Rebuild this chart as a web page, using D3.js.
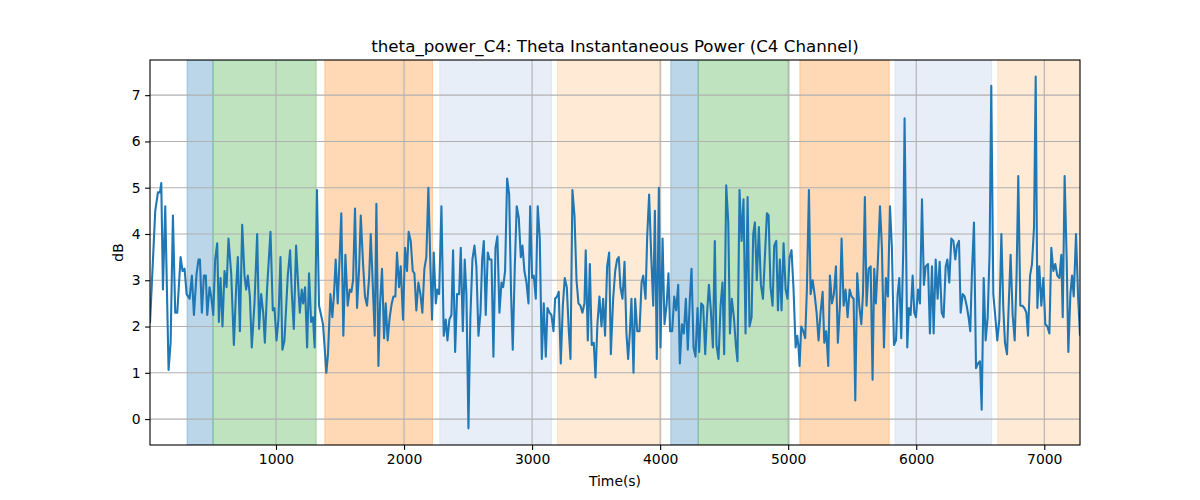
<!DOCTYPE html>
<html>
<head>
<meta charset="utf-8">
<script src="https://cdn.jsdelivr.net/npm/d3@7"></script>
<style>
    body { margin: 0; background: #fff; }
    text { font-family: "DejaVu Sans", sans-serif; fill: #000; }
</style>
</head>
<body>
<div id="chart"></div>
<script>
// time (s) and theta power (dB)
const times = [
    16, 57, 78, 94, 104, 117, 135, 161, 177, 195, 213, 229, 255, 270, 286, 302, 325, 343, 359, 380,
    395, 406, 421, 437, 452, 463, 481, 494, 510, 525, 541, 554, 567, 582, 598, 614, 629, 650, 671, 689,
    702, 718, 736, 754, 767, 780, 796, 811, 832, 853, 868, 884, 900, 913, 931, 957, 975, 988, 1004, 1019,
    1035, 1050, 1066, 1092, 1110, 1123, 1139, 1157, 1175, 1186, 1201, 1212, 1227, 1243,
    1258, 1274, 1289, 1302, 1320, 1336, 1352, 1367, 1380, 1393, 1406, 1425, 1440, 1453, 1466, 1482, 1497, 1510, 1526, 1542,
    1560, 1576, 1589, 1602, 1617, 1633, 1649, 1662, 1680, 1695, 1711, 1727, 1740, 1755, 1771, 1784, 1800, 1813, 1828, 1844,
    1857, 1872, 1888, 1904, 1917, 1932, 1945, 1961, 1974, 1992, 2008, 2023, 2036, 2052, 2068, 2081, 2096, 2112, 2128, 2143,
    2159, 2174, 2190, 2206, 2219, 2232, 2248, 2260, 2274, 2292, 2310, 2326, 2339, 2354, 2370, 2383, 2399, 2414, 2430,
    2443, 2459, 2474, 2487, 2503, 2518, 2534, 2550, 2565, 2581, 2597, 2610, 2623, 2638, 2654, 2667, 2683, 2698, 2714, 2729,
    2745, 2761, 2774, 2789, 2805, 2821, 2836, 2849, 2865, 2880, 2896, 2912, 2925, 2940, 2956, 2972, 2985, 3000, 3013, 3029,
    3044, 3060, 3076, 3091, 3107, 3120, 3136, 3151, 3167, 3180, 3195, 3208, 3224, 3240, 3255, 3271, 3287, 3300, 3315, 3331,
    3347, 3362, 3378, 3393, 3409, 3419, 3435, 3451, 3466, 3482, 3495, 3510, 3526, 3542, 3555, 3570, 3586, 3602,
    3615, 3633, 3649, 3664, 3677, 3690, 3706, 3722, 3737, 3750, 3763, 3776, 3792, 3805, 3821, 3839, 3855, 3868, 3886, 3899,
    3914, 3930, 3946, 3959, 3974, 3990, 4003, 4019, 4034, 4050, 4065, 4078, 4094, 4110, 4125, 4141, 4154, 4170, 4185, 4201,
    4216, 4232, 4245, 4261, 4276, 4292, 4305, 4321, 4336, 4352, 4367, 4381, 4396, 4412, 4427, 4440, 4456, 4472, 4487, 4500,
    4516, 4532, 4545, 4560, 4576, 4591, 4604, 4620, 4636, 4651, 4667, 4683, 4698, 4714, 4727, 4740, 4755, 4771,
    4787, 4803, 4818, 4834, 4847, 4862, 4878, 4891, 4907, 4920, 4935, 4948, 4964, 4980, 4995, 5011, 5026, 5042, 5058, 5071,
    5081, 5089, 5102, 5118, 5133, 5146, 5162, 5175, 5191, 5206, 5222, 5237, 5253, 5269, 5282, 5297, 5313, 5326, 5342, 5357,
    5373, 5388, 5404, 5417, 5433, 5448, 5464, 5480, 5495, 5511, 5524, 5539, 5555, 5571, 5584, 5599, 5612, 5628, 5644, 5659,
    5672, 5685, 5701, 5717, 5732, 5748, 5763, 5779, 5795, 5810, 5826, 5842, 5855, 5868, 5883, 5899, 5909, 5920, 5930, 5943,
    5956, 5972, 5985, 5998, 6014, 6029, 6045, 6060, 6074, 6092, 6107, 6123, 6136, 6152, 6167, 6183, 6199, 6214, 6230, 6243,
    6258, 6274, 6290, 6305, 6318, 6334, 6347, 6363, 6378, 6394, 6409, 6422, 6435, 6451, 6467, 6482, 6498, 6511, 6527, 6542,
    6558, 6573, 6586, 6602, 6618, 6633, 6649, 6665, 6680, 6693, 6709, 6724, 6737, 6753, 6769, 6784, 6797, 6813, 6829, 6844,
    6860, 6873, 6889, 6904, 6920, 6933, 6946, 6961, 6977, 6993, 7008, 7024, 7040, 7055, 7071, 7086, 7102, 7118, 7133, 7144,
    7159, 7175, 7188, 7204, 7217, 7230, 7248, 7264, 7279
];
const power = [
    2.07, 4.5, 4.9, 4.9, 5.1, 2.8, 4.6, 1.06, 1.65, 4.4, 2.3, 2.3, 3.5, 3.2, 3.25, 2.7, 2.6, 3.1, 2.25, 3.15,
    3.45, 3.45, 2.3, 3.1, 3.1, 2.25, 2.85, 2.65, 2.25, 3.45, 3.8, 2.1, 3.05, 2.0, 3.2, 2.85, 3.9, 3.15, 1.6, 2.85,
    3.5, 1.9, 4.2, 3.1, 2.8, 3.1, 2.65, 1.55, 2.5, 4.0, 1.95, 2.7, 2.3, 1.65, 2.85, 4.05, 2.35, 2.4, 1.7, 2.15,
    3.5, 1.5, 1.7, 3.1, 3.65, 2.75, 1.95, 3.75, 2.8, 2.3, 2.8, 2.5, 2.85, 1.55,
    3.15, 2.1, 2.2, 1.55, 4.95, 2.45, 2.25, 2.05, 1.55, 1.0, 1.4, 2.7, 2.2, 2.7, 3.45, 2.5, 3.5, 4.45, 1.8, 3.55,
    2.45, 2.8, 2.75, 3.0, 4.55, 2.4, 3.25, 4.4, 3.35, 2.65, 2.45, 3.05, 4.0, 2.95, 1.8, 4.65, 1.15, 2.5, 3.25, 1.75,
    2.5, 1.7, 2.2, 2.5, 2.65, 2.65, 3.6, 2.85, 3.3, 2.15, 3.7, 3.2, 4.05, 3.85, 3.2, 3.15, 2.35, 2.95, 2.7, 2.3,
    3.25, 3.5, 5.0, 3.3, 2.15, 3.6, 2.5, 2.8, 2.7, 4.6, 1.8, 2.15, 1.7, 2.15, 2.25, 3.65, 1.45, 2.7, 2.7,
    3.7, 1.9, 3.45, 2.7, -0.2, 2.2, 3.45, 3.75, 3.3, 1.8, 2.3, 3.45, 3.85, 2.25, 3.6, 3.45, 3.45, 1.35, 3.7, 3.95,
    2.3, 2.95, 2.85, 3.2, 5.2, 4.85, 2.7, 1.5, 3.3, 4.6, 4.35, 3.5, 3.75, 3.2, 2.95, 2.5, 4.6, 3.05, 3.1, 2.6,
    4.6, 3.9, 1.3, 2.5, 1.35, 2.4, 2.3, 2.25, 1.9, 2.6, 2.65, 2.75, 1.2, 2.45, 3.05, 2.85, 1.9, 1.3, 4.95, 4.4,
    3.0, 2.5, 2.45, 2.3, 2.5, 3.65, 1.7, 3.35, 1.6, 1.65, 0.9, 2.05, 2.65, 2.0, 2.6, 1.8, 3.3, 3.6,
    1.4, 2.6, 3.2, 3.45, 3.5, 2.85, 2.6, 3.4, 1.85, 1.3, 1.85, 2.6, 1.0, 2.6, 1.9, 1.9, 2.95, 3.1, 2.6, 3.95,
    4.85, 3.55, 2.45, 4.5, 1.3, 5.0, 1.55, 3.9, 2.05, 2.45, 3.15, 1.9, 1.9, 2.65, 2.35, 2.9, 1.2, 2.05, 1.85, 2.6,
    1.5, 2.6, 3.25, 1.55, 1.35, 2.4, 1.45, 2.5, 2.45, 1.4, 2.3, 2.9, 2.35, 1.55, 3.85, 1.6, 1.3, 2.45, 2.95, 1.4,
    5.05, 4.25, 1.85, 2.6, 2.2, 1.6, 1.25, 4.95, 3.85, 4.75, 1.85, 4.8, 2.0, 2.2, 4.0, 4.25, 3.0, 4.15,
    2.9, 2.6, 3.5, 4.45, 4.4, 2.85, 2.45, 3.75, 3.85, 2.35, 3.45, 2.35, 3.8, 2.8, 2.6, 3.5, 3.65, 2.8, 1.55, 1.8,
    1.55, 1.15, 2.0, 1.9, 1.75, 2.8, 4.95, 2.7, 3.0, 2.7, 2.3, 1.7, 2.3, 2.75, 1.65, 1.9, 1.15, 3.1, 2.5, 2.7,
    3.3, 1.65, 2.45, 3.9, 2.45, 2.8, 2.2, 2.8, 2.65, 2.6, 0.4, 3.15, 2.45, 2.05, 2.7, 4.8, 2.45, 3.25, 3.3, 0.85,
    3.25, 2.5, 3.45, 4.6, 3.7, 1.55, 3.05, 2.65, 4.6, 3.7, 1.6, 1.7, 2.7, 3.05, 1.75, 3.7, 6.5, 3.95, 1.55, 2.4,
    2.25, 3.1, 2.3, 2.2, 2.8, 2.5, 4.75, 2.9, 3.3, 3.35, 1.85, 3.3, 1.85, 3.45, 2.6, 3.4, 2.3, 2.2, 3.3, 3.45,
    2.95, 3.9, 3.85, 3.45, 3.75, 3.85, 2.3, 2.7, 2.65, 2.45, 2.2, 1.9, 3.15, 4.25, 1.1, 1.2, 1.25, 0.2, 3.05, 1.7,
    2.2, 3.6, 7.2, 2.7, 2.2, 1.7, 2.15, 4.0, 2.4, 1.65, 1.4, 2.6, 3.55, 2.25, 1.7, 3.15, 5.25, 2.45, 2.45, 2.4,
    2.3, 1.8, 3.1, 3.35, 4.15, 7.4, 2.4, 3.3, 2.45, 3.05, 2.05, 2.0, 1.85, 3.7, 3.2, 3.35, 3.1, 3.05, 3.55, 2.2,
    5.25, 3.45, 1.45, 2.7, 3.1, 2.65, 4.0, 2.65, 1.8
];

// shaded segments
const bandStart = [305, 508, 1381, 2279, 3198, 4083, 4297, 5091, 5834, 6636];
const bandEnd = [508, 1314, 2222, 3151, 4008, 4297, 5008, 5789, 6589, 7279];
const bandColor = ["#1f77b4", "#2ca02c", "#ff7f0e", "#aec7e8", "#ffbb78",
    "#1f77b4", "#2ca02c", "#ff7f0e", "#aec7e8", "#ffbb78"];

const xTicks = [1000, 2000, 3000, 4000, 5000, 6000, 7000];
const yTicks = [0, 1, 2, 3, 4, 5, 6, 7];

const margin = {top: 60, right: 120, bottom: 55, left: 150},
    width = 1200 - margin.left - margin.right,
    height = 500 - margin.top - margin.bottom;

const svg = d3.select("#chart")
    .append("svg")
    .attr("width", 1200)
    .attr("height", 500);

const g = svg.append("g")
    .attr("transform", "translate(" + margin.left + "," + margin.top + ")");

const x = d3.scaleLinear()
    .domain([16, 7279])
    .range([0, width]);

const y = d3.scaleLinear()
    .domain([-0.56, 7.76])
    .range([height, 0]);

g.append("clipPath")
    .attr("id", "clip")
    .append("rect")
    .attr("width", width)
    .attr("height", height);

const plot = g.append("g").attr("clip-path", "url(#clip)");

// bands
plot.selectAll(".band")
    .data(bandStart.map((s, i) => ({s, e: bandEnd[i], c: bandColor[i]})))
    .enter().append("rect")
    .attr("class", "band")
    .attr("x", d => x(d.s))
    .attr("width", d => x(d.e) - x(d.s))
    .attr("y", 0)
    .attr("height", height)
    .style("fill", d => d.c)
    .style("fill-opacity", 0.3)
    .style("stroke", d => d.c)
    .style("stroke-opacity", 0.3)
    .style("stroke-width", 1);

// grid
plot.selectAll(".gx")
    .data(xTicks)
    .enter().append("line")
    .attr("x1", d => x(d)).attr("x2", d => x(d))
    .attr("y1", 0).attr("y2", height)
    .style("stroke", "#b0b0b0")
    .style("stroke-width", 1.1);

plot.selectAll(".gy")
    .data(yTicks)
    .enter().append("line")
    .attr("x1", 0).attr("x2", width)
    .attr("y1", d => y(d)).attr("y2", d => y(d))
    .style("stroke", "#b0b0b0")
    .style("stroke-width", 1.1);

const line = d3.line()
    .x((d, i) => x(times[i]))
    .y(d => y(d));

plot.append("path")
    .datum(power)
    .attr("d", line)
    .style("fill", "none")
    .style("stroke", "#1f77b4")
    .style("stroke-width", 2.08)
    .style("stroke-linejoin", "round");

// axes
const xAxis = d3.axisBottom(x)
    .tickValues(xTicks)
    .tickSizeOuter(0)
    .tickSize(4.9)
    .tickPadding(4)
    .tickFormat(d3.format("d"));

const yAxis = d3.axisLeft(y)
    .tickValues(yTicks)
    .tickSizeOuter(0)
    .tickSize(4.9)
    .tickPadding(4.5)
    .tickFormat(d3.format("d"));

const gx = g.append("g")
    .attr("transform", "translate(0," + height + ")")
    .call(xAxis);
const gy = g.append("g").call(yAxis);

[gx, gy].forEach(a => {
    a.select(".domain").remove();
    a.selectAll(".tick line").style("stroke", "#000").style("stroke-width", 1.1);
    a.selectAll(".tick text")
        .style("font-size", "13.9px")
        .style("font-family", "'DejaVu Sans', sans-serif");
});

// frame
g.append("rect")
    .attr("width", width)
    .attr("height", height)
    .style("fill", "none")
    .style("stroke", "#000")
    .style("stroke-width", 1.1);

svg.append("text")
    .attr("x", margin.left + width / 2)
    .attr("y", 52)
    .attr("text-anchor", "middle")
    .style("font-size", "16.7px")
    .text("theta_power_C4: Theta Instantaneous Power (C4 Channel)");

svg.append("text")
    .attr("x", margin.left + width / 2)
    .attr("y", 486)
    .attr("text-anchor", "middle")
    .style("font-size", "13.9px")
    .text("Time(s)");

svg.append("text")
    .attr("transform", "translate(123," + (margin.top + height / 2) + ") rotate(-90)")
    .attr("text-anchor", "middle")
    .style("font-size", "13.9px")
    .text("dB");
</script>
</body>
</html>
